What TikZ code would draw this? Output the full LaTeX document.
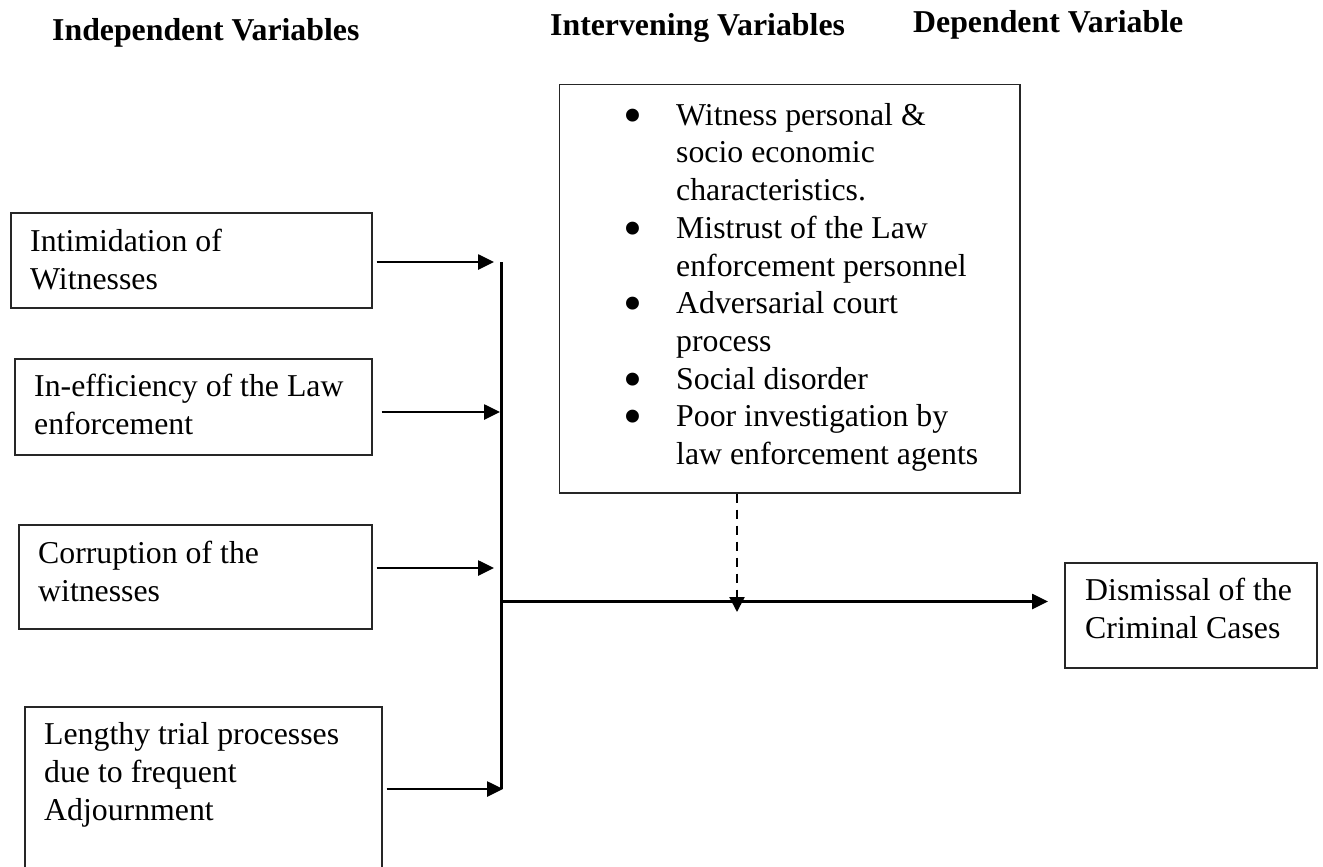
\documentclass[tikz,border=0pt]{standalone}
\usepackage{fontspec}
\setmainfont{Liberation Serif}
\usepackage{graphicx}
\usetikzlibrary{arrows.meta}
\newcommand\ibul{\llap{\raisebox{-8pt}{\scalebox{1.7}{\textbullet}}\hspace{33.5pt}}}
\begin{document}
\begin{tikzpicture}[x=1pt,y=-1pt,
  box/.style={draw=black!85, line width=1.5pt, anchor=north west, inner sep=0pt},
  txt/.style={anchor=base west, inner sep=0pt, align=left, font=\fontsize{31.8}{37.7}\selectfont},
  head/.style={anchor=base west, inner sep=0pt, font=\fontsize{31.8}{37.7}\selectfont\bfseries},
  arr/.style={-{Triangle[length=16pt,width=15pt]}, line width=2.6pt},
  dasharr/.style={-{Triangle[length=15pt,width=15pt]}, line width=2.2pt, dash pattern=on 9pt off 7pt}]
\useasboundingbox (0,0) rectangle (1323,867);
\clip (0,0) rectangle (1323,867);
\fill[white] (0,0) rectangle (1323,867);

% headings
\node[head] (h1) at (52,41) {Independent Variables};
\node[head] (h2) at (550,36) {Intervening Variables};
\node[head] (h3) at (913,33) {Dependent Variable};

% boxes
\node[box, minimum width=361pt, minimum height=95pt] (b1) at (10,212) {};
\node[box, minimum width=357pt, minimum height=96pt] (b2) at (14,358) {};
\node[box, minimum width=353pt, minimum height=104pt] (b3) at (18,524) {};
\node[box, minimum width=357pt, minimum height=200pt] (b4) at (24,706) {};
\node[box, minimum width=460.5pt, minimum height=408pt] (bi) at (558.5,84) {};
\node[box, minimum width=252pt, minimum height=105pt] (bd) at (1064,562) {};

% texts (base anchor = baseline of the last line)
\node[txt] (t1) at (30,289) {Intimidation of\\Witnesses};
\node[txt] (t2) at (34,434) {In-efficiency of the Law\\enforcement};
\node[txt] (t3) at (38,601) {Corruption of the\\witnesses};
\node[txt] (t4) at (44,820) {Lengthy trial processes\\due to frequent\\Adjournment};
\node[txt] (td) at (1085,638) {Dismissal of the\\Criminal Cases};
\node[txt] (ti) at (676,464.5) {\ibul Witness personal \&\\socio economic\\characteristics.\\\ibul Mistrust of the Law\\enforcement personnel\\\ibul Adversarial court\\process\\\ibul Social disorder\\\ibul Poor investigation by\\law enforcement agents};

% junction line
\coordinate (vt) at (501.5,262);
\coordinate (j2) at (501.5,412);
\coordinate (j3) at (501.5,568);
\coordinate (vb) at (501.5,789);
\coordinate (jm) at (501.5,601.5);
\coordinate (dm) at (737,612);
\draw[line width=2.2pt] (vt) -- (vb);

% arrows
\draw[arr] ([xshift=4pt]b1.east |- vt) -- ([xshift=-7.5pt]vt);
\draw[arr] ([xshift=9pt]b2.east |- j2) -- ([xshift=-1.5pt]j2);
\draw[arr] ([xshift=4pt]b3.east |- j3) -- ([xshift=-7.5pt]j3);
\draw[arr] ([xshift=4pt]b4.east |- vb) -- ([xshift=1.5pt]vb);
\draw[arr] (jm) -- ([xshift=-16pt]bd.west |- jm);
\draw[dasharr] (bi.south -| dm) -- (dm);
\end{tikzpicture}
\end{document}
